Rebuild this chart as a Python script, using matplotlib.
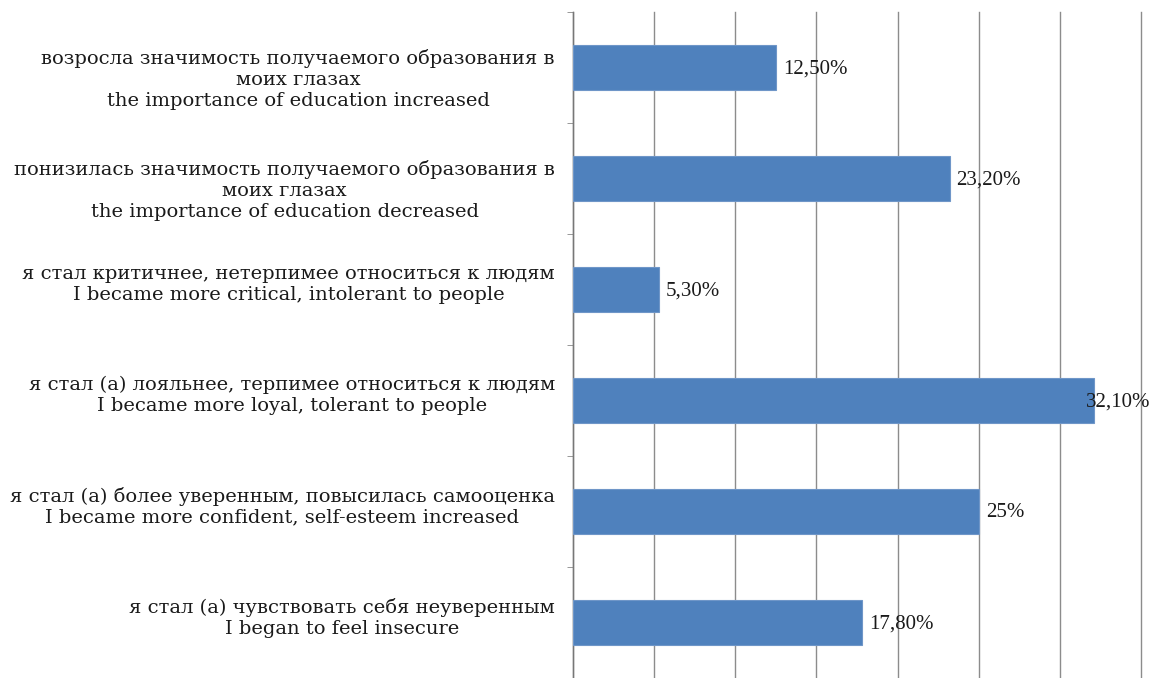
import matplotlib.pyplot as plt
import matplotlib.transforms as mtransforms
from matplotlib.ticker import MultipleLocator

plt.rcParams['font.family'] = ['Liberation Serif', 'DejaVu Serif']

# categories top to bottom
labels = [
    "возросла значимость получаемого образования в\nмоих глазах\nthe importance of education increased",
    "понизилась значимость получаемого образования в\nмоих глазах\nthe importance of education decreased",
    "я стал критичнее, нетерпимее относиться к людям\nI became more critical, intolerant to people",
    "я стал (а) лояльнее, терпимее относиться к людям\nI became more loyal, tolerant to people",
    "я стал (а) более уверенным, повысилась самооценка\nI became more confident, self-esteem increased",
    "я стал (а) чувствовать себя неуверенным\nI began to feel insecure",
]
values = [12.5, 23.2, 5.3, 32.1, 25.0, 17.8]
value_text = ["12,50%", "23,20%", "5,30%", "32,10%", "25%", "17,80%"]

fig = plt.figure(figsize=(11.62, 6.78), dpi=100)
ax = fig.add_axes([573 / 1162, 0.0, 568 / 1162, 666 / 678])

pos = list(range(len(values)))
ax.barh(pos, values, height=0.41, color='#4F81BD', edgecolor='#6f96c8', linewidth=0.8, zorder=3)

# value labels beside the bars
for i, (v, t) in enumerate(zip(values, value_text)):
    dx = -6 if v > 30 else 5
    ax.annotate(t, xy=(v, i), xytext=(dx, -1), textcoords='offset points',
                ha='left', va='center', fontsize=15, color='#1a1a1a', zorder=4)

ax.set_xlim(0, 35)
ax.set_ylim(len(values) - 0.5, -0.5)
ax.xaxis.set_major_locator(MultipleLocator(5))
ax.grid(axis='x', color='#8c8c8c', linewidth=1.0, zorder=0)
for gl in ax.get_xgridlines():
    gl.set_clip_on(False)
ax.set_xticklabels([])
ax.tick_params(axis='x', length=0)

ax.set_yticks(pos)
ax.set_yticklabels(labels, fontsize=14, family='DejaVu Serif', multialignment='center',
                   color='#1a1a1a', linespacing=1.22)
ax.tick_params(axis='y', which='major', length=0, pad=13)
ax.set_yticks([p - 0.5 for p in pos] + [len(values) - 0.5], minor=True)
ax.tick_params(axis='y', which='minor', length=4, color='#888888', direction='out')

# three-line labels sit a bit lower, two-line ones a bit higher (as in the original)
for lab in ax.get_yticklabels():
    shift = -6 if lab.get_text().count('\n') == 2 else 6
    lab.set_transform(lab.get_transform() + mtransforms.ScaledTranslation(0, shift / 72, fig.dpi_scale_trans))

for side in ['top', 'right', 'bottom']:
    ax.spines[side].set_visible(False)
ax.spines['left'].set_color('#777777')
ax.spines['left'].set_linewidth(1.0)

fig.savefig('out.png', dpi=100)
